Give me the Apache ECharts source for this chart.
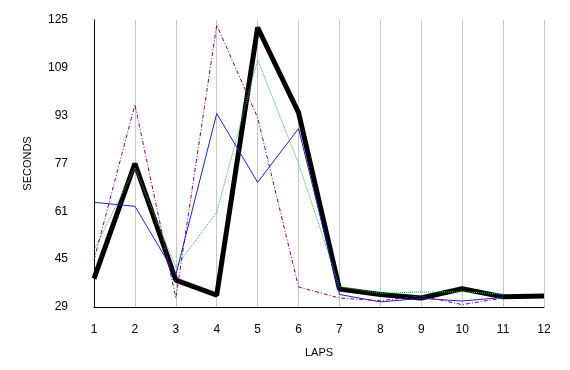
<!DOCTYPE html>
<html><head><meta charset="utf-8">
<script src="https://cdn.jsdelivr.net/npm/echarts@6/dist/echarts.min.js"></script>
<style>html,body{margin:0;padding:0;background:#fff}#c{width:570px;height:370px}</style>
</head><body><div id="c"></div>
<script>
const laps = ['1','2','3','4','5','6','7','8','9','10','11','12'];
const yTicks = [29,45,61,77,93,109,125];
const blackSeries = [38.5,77,38,33,122.5,94,35,33.2,32,35.1,32.4,32.7];
const greenSeries = [48,75.5,42.3,60.7,111.7,77,35.8,33.6,34,34.1,33.3];
const blueSeries  = [64,62.7,39.7,93.7,70.7,88.7,33.2,30.7,31.9,31,32.2];
const purpleSeries= [44.7,96.7,32,123.3,92.3,35.7,32,31.1,32.7,29.8,32];

const chart = echarts.init(document.getElementById('c'));
const font = 'Liberation Sans, Arial, sans-serif';
chart.setOption({
  animation:false,
  backgroundColor:'#fff',
  grid:{left:94,right:26,top:20,bottom:63},
  xAxis:{type:'category',data:laps,boundaryGap:false,
    name:'LAPS',nameLocation:'middle',nameGap:40,
    nameTextStyle:{fontFamily:font,fontSize:11,color:'#000'},
    axisLine:{lineStyle:{color:'#000',width:1}},
    axisTick:{show:false},
    axisLabel:{fontFamily:font,fontSize:12,color:'#000',margin:17},
    splitLine:{show:true,lineStyle:{color:'#c8c8c8',width:1}}},
  yAxis:{type:'value',min:29,max:125,
    name:'SECONDS',nameLocation:'middle',nameGap:61,nameRotate:90,
    nameTextStyle:{fontFamily:font,fontSize:11,color:'#000'},
    axisLine:{show:true,lineStyle:{color:'#000',width:1}},
    axisTick:{show:false},
    axisLabel:{fontFamily:font,fontSize:12,color:'#000',margin:26,customValues:yTicks},
    splitLine:{show:false}},
  series:[
    {type:'line',data:blackSeries,showSymbol:false,lineStyle:{color:'#000',width:5},z:1},
    {type:'line',data:greenSeries,showSymbol:false,lineStyle:{color:'#2eb84a',width:1,type:'dotted'},z:2},
    {type:'line',data:blueSeries,showSymbol:false,lineStyle:{color:'#2020b8',width:1},z:3},
    {type:'line',data:purpleSeries,showSymbol:false,lineStyle:{color:'#800080',width:1,type:[4,2,1,2]},z:4}
  ]
});
</script></body></html>
